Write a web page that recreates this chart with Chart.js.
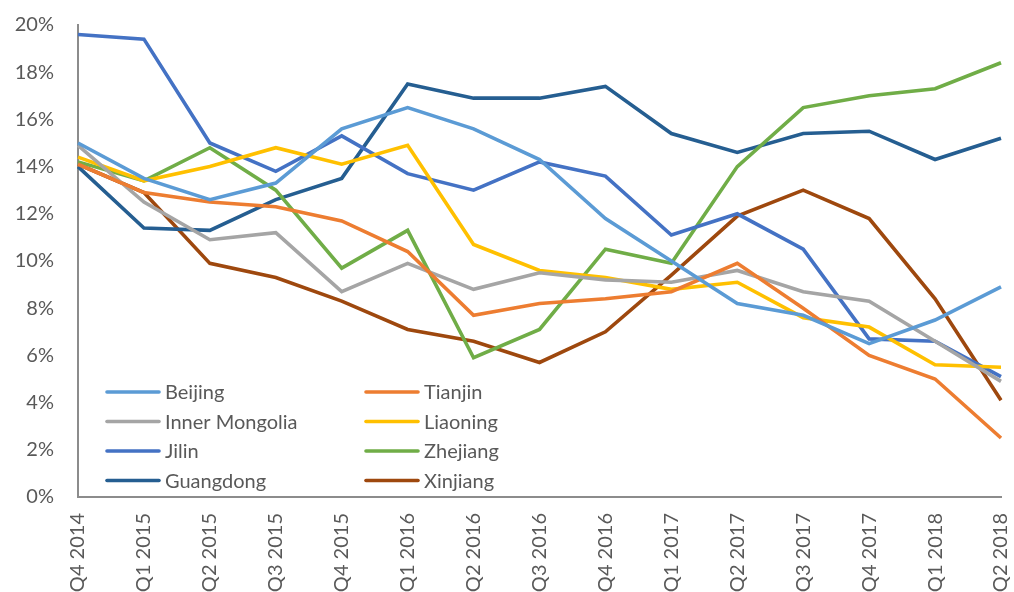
<!DOCTYPE html>
<html>
<head>
<meta charset="utf-8">
<script src="https://cdn.jsdelivr.net/npm/chart.js@4"></script>
<style>
  html, body { margin: 0; padding: 0; background: #fff; }
  #wrap { width: 1014px; height: 592px; }
</style>
</head>
<body>
<div id="wrap"><canvas id="c" width="1014" height="592"></canvas></div>
<script>
// quarters on the x axis
const quarters = ["Q4 2014", "Q1 2015", "Q2 2015", "Q3 2015", "Q4 2015", "Q1 2016", "Q2 2016", "Q3 2016",
  "Q4 2016", "Q1 2017", "Q2 2017", "Q3 2017", "Q4 2017", "Q1 2018", "Q2 2018"];

// values in percent
const beijing       = [15.0, 13.5, 12.6, 13.3, 15.6, 16.5, 15.6, 14.3, 11.8, 10.0, 8.2, 7.7, 6.5, 7.5, 8.9];
const tianjin       = [14.1, 12.9, 12.5, 12.3, 11.7, 10.4, 7.7, 8.2, 8.4, 8.7, 9.9, 8.0, 6.0, 5.0, 2.5];
const innerMongolia = [14.9, 12.5, 10.9, 11.2, 8.7, 9.9, 8.8, 9.5, 9.2, 9.1, 9.6, 8.7, 8.3, 6.6, 4.9];
const liaoning      = [14.4, 13.4, 14.0, 14.8, 14.1, 14.9, 10.7, 9.6, 9.3, 8.8, 9.1, 7.6, 7.2, 5.6, 5.5];
const jilin         = [19.6, 19.4, 15.0, 13.8, 15.3, 13.7, 13.0, 14.2, 13.6, 11.1, 12.0, 10.5, 6.7, 6.6, 5.1];
const zhejiang      = [14.2, 13.4, 14.8, 13.0, 9.7, 11.3, 5.9, 7.1, 10.5, 9.9, 14.0, 16.5, 17.0, 17.3, 18.4];
const guangdong     = [14.0, 11.4, 11.3, 12.6, 13.5, 17.5, 16.9, 16.9, 17.4, 15.4, 14.6, 15.4, 15.5, 14.3, 15.2];
const xinjiang      = [14.1, 12.9, 9.9, 9.3, 8.3, 7.1, 6.6, 5.7, 7.0, 9.4, 11.9, 13.0, 11.8, 8.4, 4.1];

const FONT = "Lato, 'Noto Sans', sans-serif";
const TXT = "#595959";
const LW = 3.6;

function line(label, data, color) {
  return { label, data, borderColor: color, backgroundColor: color, borderWidth: LW,
    pointRadius: 0, tension: 0, fill: false };
}

// legend sits inside the plot, two columns, drawn by hand
const insideLegend = {
  id: "insideLegend",
  afterDraw(chart) {
    const ctx = chart.ctx;
    const sets = chart.data.datasets;
    ctx.save();
    ctx.font = "20px " + FONT;
    ctx.textBaseline = "middle";
    sets.forEach((ds, i) => {
      const col = i % 2, row = Math.floor(i / 2);
      const x = col === 0 ? 107 : 366;
      const y = 392 + row * 29.5;
      ctx.strokeStyle = ds.borderColor;
      ctx.lineWidth = LW;
      ctx.lineCap = "round";
      ctx.beginPath();
      ctx.moveTo(x, y);
      ctx.lineTo(x + 52, y);
      ctx.stroke();
      ctx.fillStyle = TXT;
      ctx.fillText(ds.label, x + 58, y + 1);
    });
    ctx.restore();
  }
};

new Chart(document.getElementById("c"), {
  type: "line",
  data: {
    labels: quarters,
    datasets: [
      line("Beijing", beijing, "#5B9BD5"),
      line("Tianjin", tianjin, "#ED7D31"),
      line("Inner Mongolia", innerMongolia, "#A5A5A5"),
      line("Liaoning", liaoning, "#FFC000"),
      line("Jilin", jilin, "#4472C4"),
      line("Zhejiang", zhejiang, "#70AD47"),
      line("Guangdong", guangdong, "#255E91"),
      line("Xinjiang", xinjiang, "#9E480E")
    ]
  },
  options: {
    responsive: false,
    animation: false,
    layout: { padding: { top: 25, right: 0, left: 0, bottom: 0 } },
    plugins: { legend: { display: false }, tooltip: { enabled: false } },
    scales: {
      x: {
        offset: false,
        grid: { display: false },
        border: { display: true, color: "#8C8C8C", width: 2 },
        ticks: { color: TXT, font: { family: FONT, size: 20 }, maxRotation: 90, minRotation: 90,
          autoSkip: false, padding: 8 },
        afterFit(s) { s.height = 95; s.paddingRight = 13; }
      },
      y: {
        min: 0, max: 20,
        grid: { display: false },
        border: { display: true, color: "#8C8C8C", width: 2 },
        ticks: { stepSize: 2, color: TXT, font: { family: FONT, size: 20 }, padding: 16,
          callback: v => v + "%" },
        afterFit(s) { s.width = 78; s.paddingTop = 0; }
      }
    }
  },
  plugins: [insideLegend]
});
</script>
</body>
</html>
